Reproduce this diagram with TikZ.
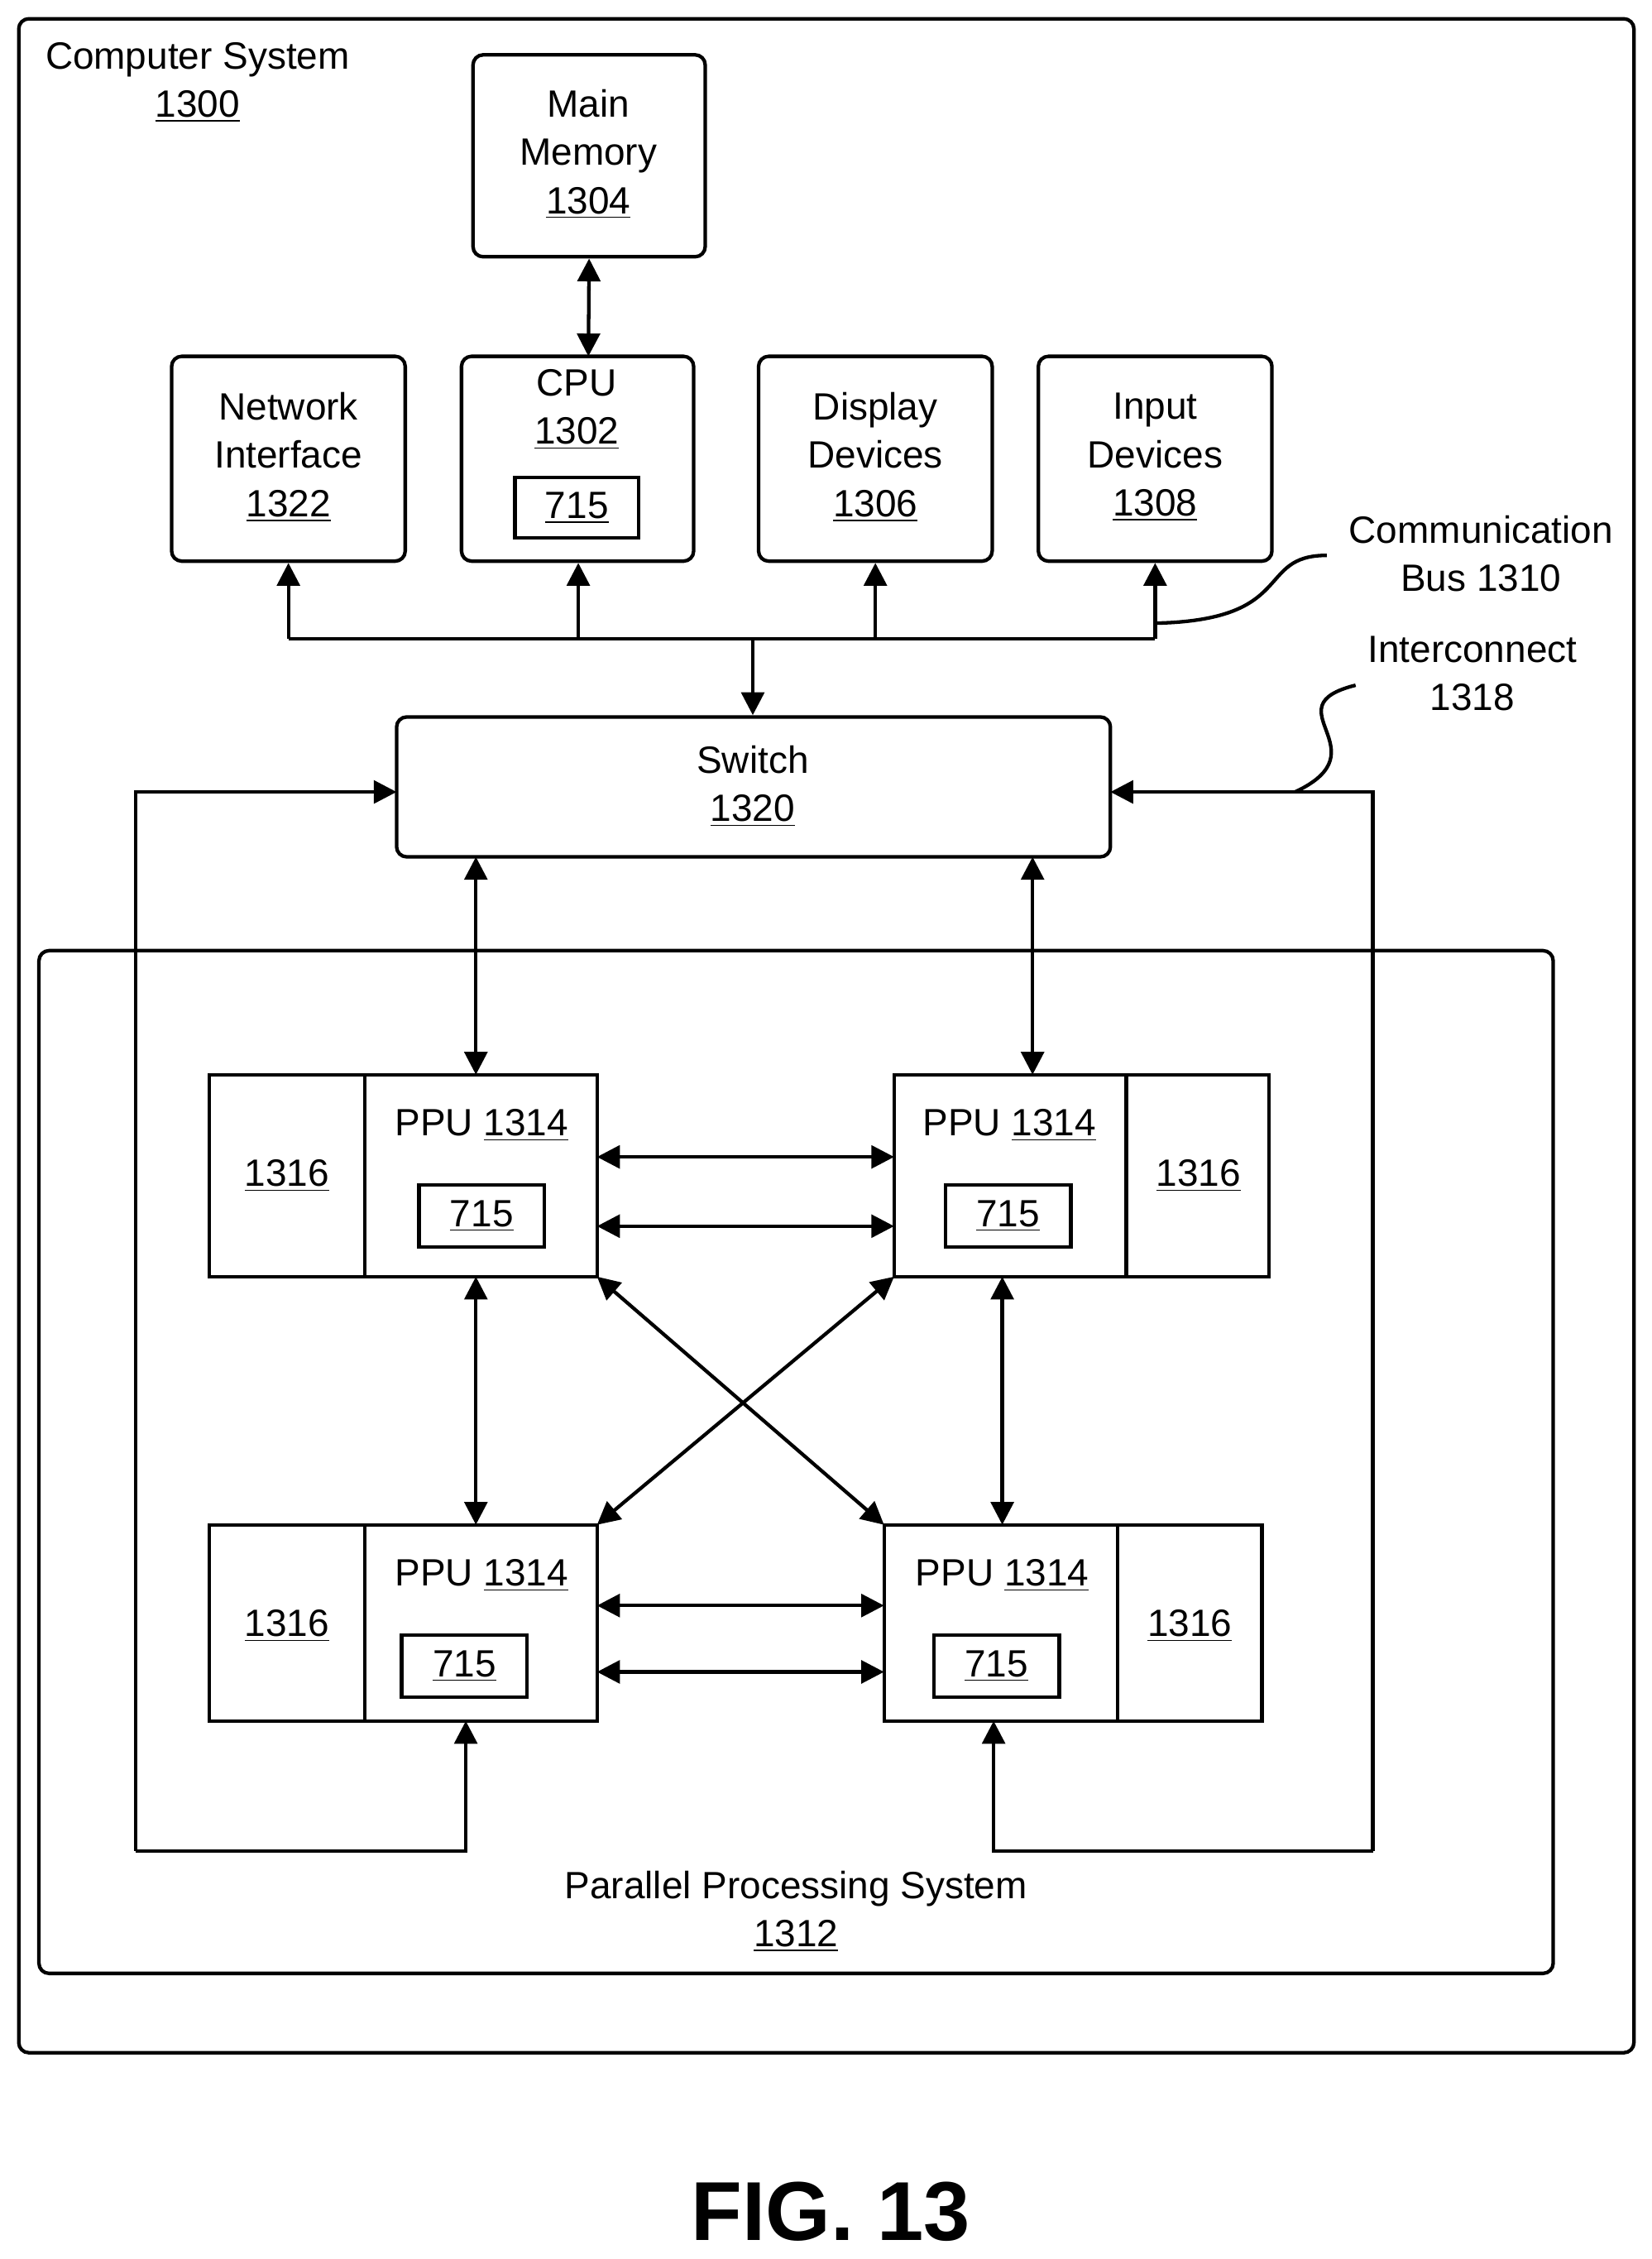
\documentclass[tikz,border=0pt]{standalone}
\usepackage{fontspec}
\setmainfont{Liberation Sans}
\usetikzlibrary{arrows.meta}
\newcommand{\px}{0.02cm}
\newcommand{\ul}[1]{\underline{#1}}

\begin{document}
\begin{tikzpicture}[x=0.02cm,y=-0.02cm,line width=1.4pt,
    font=\fontsize{15}{18}\selectfont,
    box/.style={draw,rounded corners=4pt,inner sep=0pt},
    sq/.style={draw,inner sep=0pt},
    lbl/.style={align=center,inner sep=0pt},
    arr/.style={-{Triangle[length=9pt,width=9pt]}},
    darr/.style={{Triangle[length=9pt,width=9pt]}-{Triangle[length=9pt,width=9pt]}}]
\useasboundingbox (0,0) rectangle (1145,1566);
% frames
\node[box,minimum width=1120*\px,minimum height=1410*\px] (sys) at (573,718) {};
\node[lbl] (syslbl) at (137,57) {Computer System\\[1pt]\ul{1300}};
\node[box,minimum width=1050*\px,minimum height=709*\px] (pps) at (552,1013.5) {};
\node[lbl] (ppslbl) at (552,1325) {Parallel Processing System\\[1pt]\ul{1312}};
% top boxes
\node[box,minimum width=161*\px,minimum height=140*\px] (mem) at (408.5,108) {};
\node[lbl] at (408,107) {Main\\[1pt]Memory\\[1pt]\ul{1304}};
\node[box,minimum width=162*\px,minimum height=142*\px] (net) at (200,318) {};
\node[lbl] at (200,317) {Network\\[1pt]Interface\\[1pt]\ul{1322}};
\node[box,minimum width=161*\px,minimum height=142*\px] (cpu) at (400.5,318) {};
\node[lbl] at (400,284) {CPU\\[1pt]\ul{1302}};
\node[sq,minimum width=86*\px,minimum height=42*\px] (cpux) at (400,352) {\ul{715}};
\node[box,minimum width=162*\px,minimum height=142*\px] (disp) at (607,318) {};
\node[lbl] at (607,317) {Display\\[1pt]Devices\\[1pt]\ul{1306}};
\node[box,minimum width=162*\px,minimum height=142*\px] (inp) at (801,318) {};
\node[lbl] at (801,317) {Input\\[1pt]Devices\\[1pt]\ul{1308}};
\node[lbl] (buslbl) at (1027,384) {Communication\\[1pt]Bus 1310};
\node[lbl] (iclbl) at (1021,467) {Interconnect\\[1pt]1318};
% switch
\node[box,minimum width=495*\px,minimum height=97*\px] (sw) at (522.5,545.5) {};
\node[lbl] at (522,545) {Switch\\[1pt]\ul{1320}};
% PPUs
\foreach \n/\xa/\xd/\xb/\ya/\yb/\xp/\xf/\xo in
   {tl/145/253/414/745/885/334/334/199, tr/620/781/880/745/885/700/699/831,
    bl/145/253/414/1057/1193/334/322/199, br/613/775/875/1057/1193/695/691/825}{
  \draw (\xa,\ya) rectangle (\xb,\yb);
  \draw (\xd,\ya) -- (\xd,\yb);
  \node[lbl] (\n) at ({(\xa+\xb)/2},{(\ya+\yb)/2}) {};
  \node[lbl] at (\xp,{\ya+35}) {PPU \ul{1314}};
  \node[sq,minimum width=87*\px,minimum height=43*\px] at (\xf,{\ya+98}) {\ul{715}};
  \node[lbl] at (\xo,{\ya+70}) {\ul{1316}};
}
% coordinates
\coordinate (b0) at (200,443); \coordinate (b1) at (401,443);
\coordinate (b2) at (607,443); \coordinate (b3) at (801,443);
\coordinate (bm) at (522,443);
\coordinate (swl) at (275,549); \coordinate (swr) at (770,549);
\coordinate (lc) at (94,1283); \coordinate (rc) at (952,1283);
% bus
\draw (b0) -- (b3);
\draw[arr] (b0) -- (net.south);
\draw[arr] (b1) -- (b1 |- cpu.south);
\draw[arr] (b2) -- (disp.south);
\draw[arr] (b3) -- (inp.south);
\draw[arr] (bm) -- (bm |- sw.north);
\draw[darr] (mem.south) -- (408,247);
\draw (801,432) .. controls (900,430) and (870,385) .. (920,385);
\draw (898,549) .. controls (960,520) and (880,490) .. (940,475);
% interconnect
\draw[arr] (lc) -- (94,549) -- (swl);
\draw[arr] (lc) -- (323,1283) -- (323,1193);
\draw[arr] (rc) -- (952,549) -- (swr);
\draw[arr] (rc) -- (689,1283) -- (689,1193);
\draw[darr] (330,594) -- (330,745);
\draw[darr] (716,594) -- (716,745);
% PPU links
\draw[darr] (414,802) -- (620,802);
\draw[darr] (414,850) -- (620,850);
\draw[darr] (414,1113) -- (613,1113);
\draw[darr] (414,1159) -- (613,1159);
\draw[darr] (330,885) -- (330,1057);
\draw[darr] (695,885) -- (695,1057);
\draw[darr] (414,885) -- (613,1057);
\draw[darr] (620,885) -- (414,1057);
\node[lbl,font=\fontsize{33}{36}\selectfont\bfseries] (fig) at (576,1533) {FIG. 13};
\end{tikzpicture}
\end{document}
